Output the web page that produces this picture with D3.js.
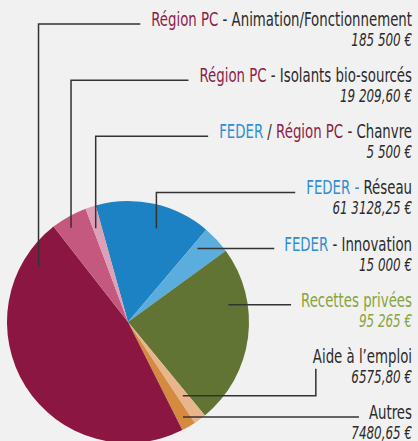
<!DOCTYPE html>
<html>
<head>
<meta charset="utf-8">
<script src="https://cdn.jsdelivr.net/npm/d3@7"></script>
<style>
  html, body { margin: 0; padding: 0; background: #f1f1f1; }
  svg { display: block; }
  text { font-family: "Liberation Sans Narrow", "DejaVu Sans Condensed", sans-serif; }
</style>
</head>
<body>
<div id="chart"></div>
<script>
// slices, clockwise from the top
const categories = ['Réseau', 'Innovation', 'Recettes privées', 'Aide à l’emploi', 'Autres',
    'Animation/Fonctionnement', 'Isolants bio-sourcés', 'Chanvre'];
const values = [61312.825, 15000, 95265, 6575.80, 7480.65, 185500, 19209.60, 5500];
const sliceColors = ['#1c82c4', '#5badde', '#627434', '#e8b68a', '#d58a40', '#8b1641', '#c4587f', '#dda0b6'];

// labels, top to bottom (index into categories)
const labelOrder = [5, 6, 7, 0, 1, 2, 3, 4];
const labelParts = [
    [['FEDER - ', 'feder'], ['Réseau', 'dark']],
    [['FEDER', 'feder'], [' - Innovation', 'dark']],
    [['Recettes privées', 'green']],
    [['Aide à l’emploi', 'dark']],
    [['Autres', 'dark']],
    [['Région PC', 'region'], [' - Animation/Fonctionnement', 'dark']],
    [['Région PC', 'region'], [' - Isolants bio-sourcés', 'dark']],
    [['FEDER', 'feder'], [' / ', 'dark'], ['Région PC', 'region'], [' - Chanvre', 'dark']]
];
const valueLabels = ['61 3128,25 €', '15 000 €', '95 265 €', '6575,80 €', '7480,65 €',
    '185 500 €', '19 209,60 €', '5 500 €'];
// leader style and where it leaves the slice (share of the slice's angle, share of radius)
const leaderKind = ['up', 'flat', 'flat', 'elbow', 'flat', 'up', 'up', 'up'];
const leaderAt = [[0.58, 0.81], [0.26, 0.83], [0.31, 0.84], [0.48, 0.76], [0.51, 0.91],
    [0.88, 0.87], [0.39, 0.91], [0.3, 0.82]];

const textColors = { dark: '#2b2b2b', region: '#8c1d47', feder: '#2f8ed2', green: '#86a43c' };

const width = 418;
const height = 441;
const cx = 128, cy = 322, radius = 121;
const rightEdge = 412;
const squeeze = 0.78; // condensed look of the original typeface

const svg = d3.select('#chart').append('svg')
    .attr('width', width)
    .attr('height', height);

const offset = -15.5 * Math.PI / 180;
const pie = d3.pie().sort(null).value(d => d)
    .startAngle(offset).endAngle(2 * Math.PI + offset);
const arcs = pie(values);
const arc = d3.arc().innerRadius(0).outerRadius(radius);

const g = svg.append('g').attr('transform', `translate(${cx},${cy})`);
g.selectAll('path')
    .data(arcs)
    .enter().append('path')
    .attr('d', arc)
    .attr('fill', (d, i) => sliceColors[i]);

const rowY = d3.scaleLinear().domain([0, 7]).range([26, 419]);

const labels = svg.append('g');
const leaders = svg.append('g')
    .attr('fill', 'none')
    .attr('stroke', '#333')
    .attr('stroke-width', 1.5);

labelOrder.forEach((ci, row) => {
    const y = rowY(row);
    const t = labels.append('text')
        .attr('transform', `translate(${rightEdge},${y}) scale(${squeeze},1)`)
        .attr('text-anchor', 'end')
        .attr('font-size', 19);
    labelParts[ci].forEach(p => {
        t.append('tspan').attr('fill', textColors[p[1]]).text(p[0]);
    });
    const isGreen = labelParts[ci][0][1] === 'green';
    labels.append('text')
        .attr('transform', `translate(${rightEdge},${y + 20}) scale(${squeeze},1)`)
        .attr('text-anchor', 'end')
        .attr('font-size', 17)
        .attr('font-style', 'italic')
        .attr('fill', isGreen ? textColors.green : textColors.dark)
        .text(valueLabels[ci]);

    const textLeft = rightEdge - t.node().getComputedTextLength() * squeeze;
    const a = arcs[ci];
    const ang = a.startAngle + (a.endAngle - a.startAngle) * leaderAt[ci][0];
    const [px, py] = d3.pointRadial(ang, radius * leaderAt[ci][1]);
    const ax = cx + px, ay = cy + py;
    const lineY = y - 2;
    let pts;
    if (leaderKind[ci] === 'up') {
        pts = [[ax, ay], [ax, lineY], [textLeft - 11, lineY]];
    } else if (leaderKind[ci] === 'flat') {
        pts = [[ax, lineY], [textLeft - 10, lineY]];
    } else {
        pts = [[ax, ay], [textLeft + 3, ay], [textLeft + 3, y + 6]];
    }
    leaders.append('path').attr('d', d3.line()(pts));
});
</script>
</body>
</html>
